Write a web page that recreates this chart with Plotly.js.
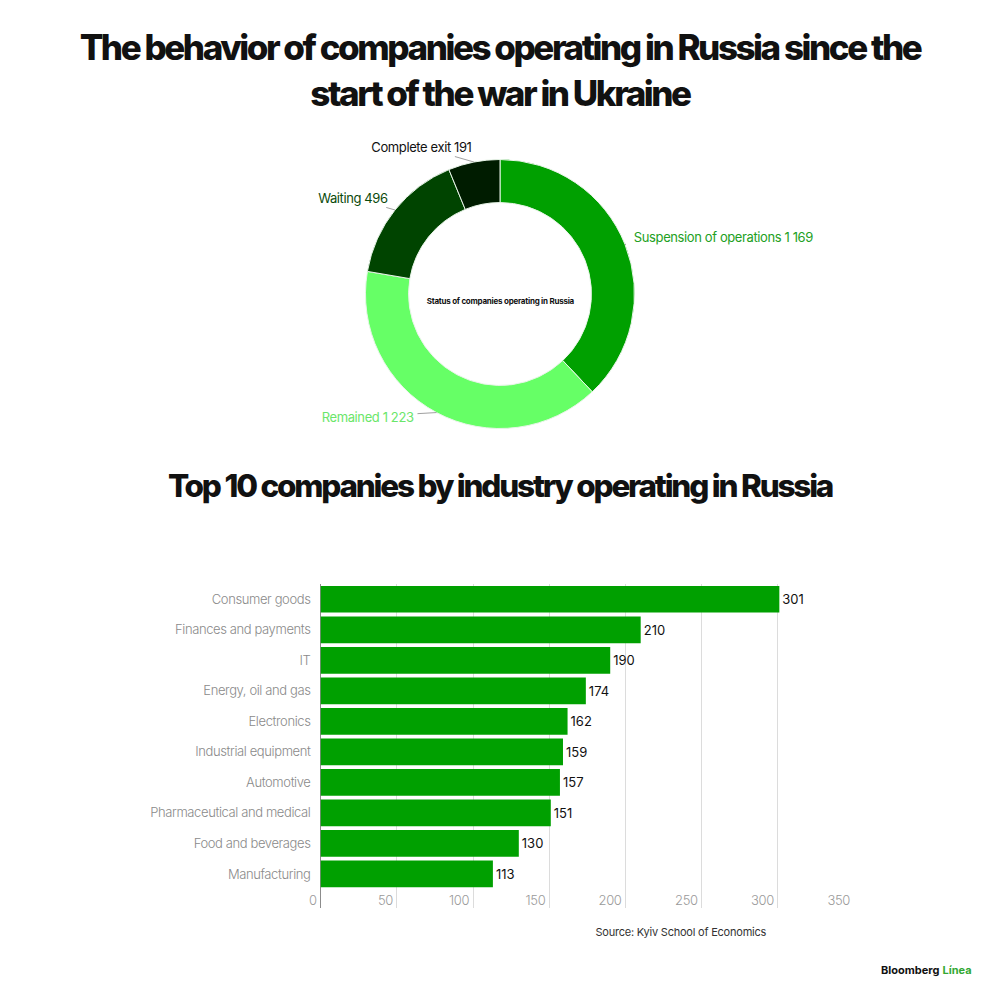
<!DOCTYPE html>
<html>
<head>
<meta charset="utf-8">
<script src="https://cdn.plot.ly/plotly-3.0.1.min.js"></script>
<style>
  html, body { margin: 0; padding: 0; background: #fff; }
  #chart { width: 1000px; height: 1000px; }
</style>
</head>
<body>
<div id="chart"></div>
<script>
// ---- Donut data ----
const statusLabels = ["Suspension of operations", "Remained", "Waiting", "Complete exit"];
const statusValues = [1169, 1223, 496, 191];
const statusColors = ["#00a000", "#66ff66", "#004400", "#001c00"];
const statusTextColors = ["#22a022", "#6ae66a", "#0b4a0b", "#111111"];

// ---- Bar data ----
const industries = ["Consumer goods", "Finances and payments", "IT", "Energy, oil and gas",
  "Electronics", "Industrial equipment", "Automotive", "Pharmaceutical and medical",
  "Food and beverages", "Manufacturing"];
const industryCounts = [301, 210, 190, 174, 162, 159, 157, 151, 130, 113];
const xTicks = [0, 50, 100, 150, 200, 250, 300, 350];

const titleFont = "Inter, 'Noto Sans', sans-serif";
const bodyFont = "Inter, Roboto, 'Noto Sans', sans-serif";

// donut geometry (paper units)
const donutDomainX = [0.3655, 0.6345];
const donutDomainY = [0.5715, 0.8405];
const donutCx = (donutDomainX[0] + donutDomainX[1]) / 2;
const donutCy = (donutDomainY[0] + donutDomainY[1]) / 2;
const donutR = (donutDomainX[1] - donutDomainX[0]) / 2;
// label offsets from slice (pixels) - styling only
const labelOffsets = [[98, -7], [-69, 4], [-42, -12], [-52, -15]];

const donut = {
  type: "pie",
  labels: statusLabels,
  values: statusValues,
  hole: 0.68,
  sort: false,
  direction: "clockwise",
  rotation: 0,
  marker: { colors: statusColors, line: { color: "#e8f5e8", width: 1 } },
  textinfo: "none",
  automargin: false,
  showlegend: false,
  hoverinfo: "label+value",
  domain: { x: donutDomainX, y: donutDomainY }
};

const bars = {
  type: "bar",
  orientation: "h",
  y: industries,
  x: industryCounts,
  marker: { color: "#00a000" },
  text: industryCounts.map(String),
  textposition: "outside",
  textfont: { family: bodyFont, size: 13, color: "#111111" },
  cliponaxis: false,
  showlegend: false,
  xaxis: "x",
  yaxis: "y"
};

// slice labels with leader lines, positioned from the data's angles
const total = statusValues.reduce((a, b) => a + b, 0);
let cum = 0;
const sliceAnnotations = statusValues.map(function (v, i) {
  const mid = (cum + v / 2) / total * 2 * Math.PI;
  cum += v;
  const fmt = v >= 1000 ? String(v).replace(/\B(?=(\d{3})+(?!\d))/g, " ") : String(v);
  return {
    text: statusLabels[i] + " " + fmt,
    x: donutCx + donutR * Math.sin(mid),
    y: donutCy + donutR * Math.cos(mid),
    xref: "paper", yref: "paper",
    showarrow: true,
    arrowhead: 0,
    arrowwidth: 0.7,
    arrowcolor: "#777777",
    standoff: 0,
    ax: labelOffsets[i][0],
    ay: labelOffsets[i][1],
    font: { family: bodyFont, size: 13, color: statusTextColors[i] }
  };
});

const layout = {
  width: 1000,
  height: 1000,
  margin: { l: 0, r: 0, t: 0, b: 0 },
  paper_bgcolor: "#ffffff",
  plot_bgcolor: "#ffffff",
  separators: ". ",
  bargap: 0.125,
  title: {
    text: "The behavior of companies operating in Russia since the<br>start of the war in Ukraine",
    font: { family: titleFont, size: 35, color: "#111111", weight: 800 },
    x: 0.5, xanchor: "center",
    y: 0.94, yanchor: "middle", yref: "paper"
  },
  xaxis: {
    domain: [0.3055, 0.854],
    range: [-10, 350],
    tickvals: xTicks,
    ticktext: xTicks.map(String),
    ticklabelposition: "inside left",
    ticklabelstandoff: -6,
    ticklabelshift: -4,
    tickfont: { family: bodyFont, size: 13, color: "#9a9a9a", weight: 300 },
    showgrid: true,
    gridcolor: "#dcdcdc",
    gridwidth: 1,
    zeroline: true,
    zerolinecolor: "#8c8c8c",
    zerolinewidth: 1,
    showline: false,
    ticks: "",
    fixedrange: true
  },
  yaxis: {
    domain: [0.092, 0.416],
    type: "category",
    categoryorder: "array",
    categoryarray: industries,
    range: [10.115, -0.5],
    autorange: false,
    tickfont: { family: bodyFont, size: 13, color: "#8a8a8a", weight: 300 },
    ticklabelstandoff: -6,
    showgrid: false,
    showline: false,
    zeroline: false,
    ticks: "",
    automargin: false,
    fixedrange: true
  },
  annotations: sliceAnnotations.concat([
    {
      text: "<b>Status of companies operating in Russia</b>",
      x: donutCx, y: donutCy, xref: "paper", yref: "paper",
      showarrow: false,
      font: { family: bodyFont, size: 8, color: "#111111" }
    },
    {
      text: "Top 10 companies by industry operating in Russia",
      x: 0.5, y: 0.515, xref: "paper", yref: "paper",
      xanchor: "center", yanchor: "middle",
      showarrow: false,
      font: { family: titleFont, size: 31.5, color: "#111111", weight: 800 }
    },
    {
      text: "Source: Kyiv School of Economics",
      x: 0.59, y: 0.068, xref: "paper", yref: "paper",
      xanchor: "left", yanchor: "middle",
      showarrow: false,
      font: { family: bodyFont, size: 11, color: "#333333" }
    },
    {
      text: "<b>Bloomberg</b> <b><span style='color:#33a833'>Línea</span></b>",
      x: 0.974, y: 0.03, xref: "paper", yref: "paper",
      xanchor: "right", yanchor: "middle",
      showarrow: false,
      font: { family: bodyFont, size: 11, color: "#111111" }
    }
  ])
};

Plotly.newPlot("chart", [donut, bars], layout, { displayModeBar: false, staticPlot: true }).then(function () {
  document.querySelectorAll(".gtitle").forEach(function (el) { el.style.letterSpacing = "-0.07em"; });
  document.querySelectorAll(".annotation-text").forEach(function (el) {
    const t = el.textContent;
    if (t.indexOf("Top 10") === 0) el.style.letterSpacing = "-0.07em";
    else if (t.indexOf("Source") === 0) el.style.letterSpacing = "-0.02em";
    else if (t.indexOf("Status") === 0) el.style.letterSpacing = "-0.03em";
    else if (t.indexOf("Bloomberg") !== 0) el.style.letterSpacing = "-0.03em";
  });
  document.querySelectorAll(".ytick text, .xtick text").forEach(function (el) { el.style.letterSpacing = "-0.03em"; });
});
</script>
</body>
</html>
